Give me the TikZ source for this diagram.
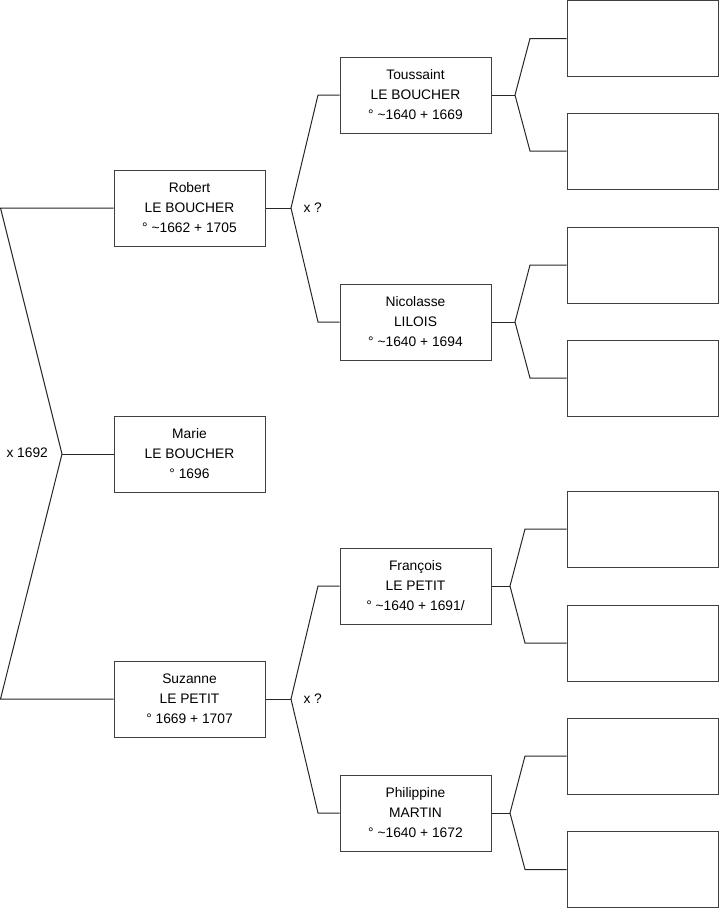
\documentclass[tikz,border=0pt]{standalone}
\usepackage{fontspec}
\setmainfont{Liberation Sans}
\begin{document}
\begin{tikzpicture}[x=1pt, y=-1pt, line width=1pt]
    \tikzset{
        person/.style={draw=black!75, rectangle, minimum width=151pt, minimum height=76pt, inner sep=0pt, align=center, font=\fontsize{13.8}{20}\selectfont},
        link/.style={draw=black!85},
        union/.style={anchor=west, inner sep=0pt, font=\fontsize{13.8}{20}\selectfont}
    }
    \useasboundingbox (0,0) rectangle (719,908);

    % Generation 1
    \node[person] (robert) at (189.5,208) {Robert\\LE BOUCHER\\° \textasciitilde1662 + 1705};
    \node[person] (marie) at (189.5,454) {Marie\\LE BOUCHER\\° 1696};
    \node[person] (suzanne) at (189.5,699) {Suzanne\\LE PETIT\\° 1669 + 1707};

    % Generation 2
    \node[person] (toussaint) at (415.5,95) {Toussaint\\LE BOUCHER\\° \textasciitilde1640 + 1669};
    \node[person] (nicolasse) at (415.5,322) {Nicolasse\\LILOIS\\° \textasciitilde1640 + 1694};
    \node[person] (francois) at (415.5,586) {François\\LE PETIT\\° \textasciitilde1640 + 1691/};
    \node[person] (philippine) at (415.5,813) {Philippine\\MARTIN\\° \textasciitilde1640 + 1672};

    % Generation 3 (empty)
    \node[person] (tfather) at (642.5,38.5) {};
    \node[person] (tmother) at (642.5,151) {};
    \node[person] (nfather) at (642.5,265) {};
    \node[person] (nmother) at (642.5,378) {};
    \node[person] (ffather) at (642.5,529) {};
    \node[person] (fmother) at (642.5,643) {};
    \node[person] (pfather) at (642.5,756) {};
    \node[person] (pmother) at (642.5,869.5) {};

    % Union labels
    \node[union] (xm) at (6,453) {x 1692};
    \node[union] (xr) at (303,208) {x ?};
    \node[union] (xs) at (303,699) {x ?};

    % Bend points
    \coordinate (cm) at (62,454);
    \coordinate (cr) at (0.5,208);
    \coordinate (cs) at (0.5,699);
    \coordinate (jr) at (291,208);
    \coordinate (jt) at (318,95);
    \coordinate (jn) at (318,322);
    \coordinate (js) at (291,699);
    \coordinate (jf) at (318,586);
    \coordinate (jp) at (318,813);
    \coordinate (kt) at (515,95);
    \coordinate (kt1) at (530,38.5);
    \coordinate (kt2) at (530,151);
    \coordinate (kn) at (515,322);
    \coordinate (kn1) at (530,265);
    \coordinate (kn2) at (530,378);
    \coordinate (kf) at (510,586);
    \coordinate (kf1) at (525,529);
    \coordinate (kf2) at (525,643);
    \coordinate (kp) at (510,813);
    \coordinate (kp1) at (525,756);
    \coordinate (kp2) at (525,869.5);

    % Connectors
    \draw[link] (marie) -- (cm);
    \draw[link] (robert) -- (cr) -- (cm) -- (cs) -- (suzanne);

    \draw[link] (robert) -- (jr);
    \draw[link] (toussaint) -- (jt) -- (jr) -- (jn) -- (nicolasse);
    \draw[link] (suzanne) -- (js);
    \draw[link] (francois) -- (jf) -- (js) -- (jp) -- (philippine);

    \draw[link] (toussaint) -- (kt);
    \draw[link] (tfather) -- (kt1) -- (kt) -- (kt2) -- (tmother);
    \draw[link] (nicolasse) -- (kn);
    \draw[link] (nfather) -- (kn1) -- (kn) -- (kn2) -- (nmother);
    \draw[link] (francois) -- (kf);
    \draw[link] (ffather) -- (kf1) -- (kf) -- (kf2) -- (fmother);
    \draw[link] (philippine) -- (kp);
    \draw[link] (pfather) -- (kp1) -- (kp) -- (kp2) -- (pmother);
\end{tikzpicture}
\end{document}
